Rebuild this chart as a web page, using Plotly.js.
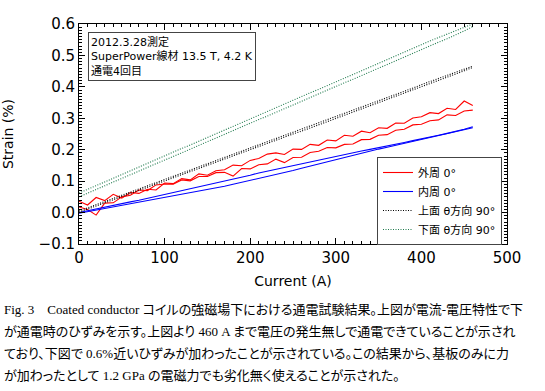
<!DOCTYPE html>
<html>
<head>
<meta charset="utf-8">
<script src="https://cdn.plot.ly/plotly-3.0.1.min.js"></script>
<style>
html,body{margin:0;padding:0;background:#fff;}
#chart{width:545px;height:391px;}
#chart .annotation-text{font-feature-settings:"palt" 1;}
</style>
</head>
<body>
<div id="chart"></div>
<script>
// ---- data ----
const current = [0,10,20,30,40,50,60,70,80,90,100,110,120,130,140,150,160,170,180,190,200,210,220,230,240,250,260,270,280,290,300,310,320,330,340,350,360,370,380,390,400,410,420,430,440,450,460];

const outerUp   = [0.036,0.024,0.048,0.038,0.058,0.046,0.064,0.061,0.074,0.072,0.094,0.092,0.108,0.104,0.123,0.119,0.133,0.136,0.151,0.149,0.166,0.172,0.186,0.190,0.185,0.202,0.201,0.217,0.214,0.231,0.228,0.246,0.243,0.259,0.254,0.270,0.268,0.285,0.284,0.301,0.305,0.318,0.315,0.332,0.328,0.355,0.341];
const outerDown = [0.018,0.010,-0.008,0.030,0.031,0.050,0.055,0.072,0.070,0.088,0.091,0.090,0.104,0.101,0.115,0.115,0.127,0.128,0.116,0.140,0.139,0.152,0.155,0.170,0.159,0.175,0.176,0.191,0.195,0.207,0.206,0.217,0.218,0.232,0.233,0.246,0.248,0.262,0.265,0.279,0.281,0.292,0.295,0.311,0.309,0.323,0.326];

const innerUp   = [0.000,0.006,0.010,0.016,0.022,0.028,0.034,0.039,0.045,0.051,0.057,0.063,0.069,0.075,0.081,0.087,0.093,0.100,0.106,0.112,0.119,0.126,0.132,0.138,0.144,0.150,0.156,0.162,0.168,0.174,0.180,0.185,0.190,0.196,0.201,0.206,0.212,0.217,0.223,0.229,0.234,0.240,0.246,0.252,0.258,0.265,0.273];
const innerDown = [-0.002,0.003,0.008,0.012,0.017,0.022,0.027,0.032,0.037,0.042,0.047,0.052,0.057,0.062,0.067,0.073,0.078,0.084,0.090,0.096,0.102,0.108,0.115,0.121,0.127,0.134,0.141,0.148,0.155,0.162,0.169,0.176,0.183,0.190,0.196,0.202,0.208,0.214,0.220,0.226,0.232,0.238,0.244,0.250,0.256,0.263,0.270];

const topUp     = [0.005,0.015,0.025,0.034,0.045,0.055,0.065,0.074,0.085,0.095,0.105,0.115,0.125,0.134,0.145,0.155,0.165,0.174,0.185,0.195,0.205,0.215,0.225,0.234,0.244,0.254,0.264,0.274,0.284,0.294,0.304,0.314,0.324,0.334,0.345,0.355,0.365,0.376,0.386,0.396,0.407,0.417,0.427,0.437,0.447,0.456,0.466];
const topDown   = [0.001,0.011,0.020,0.030,0.040,0.050,0.060,0.070,0.080,0.090,0.100,0.110,0.120,0.130,0.140,0.150,0.160,0.170,0.180,0.190,0.200,0.210,0.220,0.230,0.240,0.250,0.259,0.269,0.279,0.289,0.299,0.309,0.319,0.329,0.339,0.349,0.360,0.370,0.380,0.391,0.401,0.411,0.421,0.431,0.441,0.451,0.462];

const bottomUp   = [0.062,0.074,0.086,0.097,0.109,0.121,0.133,0.145,0.156,0.168,0.180,0.192,0.204,0.215,0.227,0.239,0.251,0.263,0.274,0.286,0.298,0.310,0.322,0.333,0.345,0.357,0.369,0.381,0.392,0.404,0.416,0.428,0.440,0.451,0.463,0.475,0.487,0.499,0.510,0.522,0.534,0.546,0.557,0.568,0.579,0.590,0.600];
const bottomDown = [0.050,0.061,0.073,0.085,0.097,0.108,0.120,0.132,0.144,0.155,0.167,0.179,0.190,0.202,0.214,0.225,0.237,0.249,0.261,0.272,0.284,0.296,0.307,0.319,0.331,0.342,0.354,0.366,0.378,0.389,0.401,0.413,0.424,0.436,0.448,0.459,0.471,0.483,0.495,0.506,0.518,0.530,0.542,0.553,0.565,0.578,0.592];

const seriesNames = ['外周 0°','内周 0°','上面 θ方向 90°','下面 θ方向 90°'];
const infoLines = ['2012.3.28測定','SuperPower線材 13.5 T, 4.2 K','通電4回目'];
const captionLines = [
  'Fig. 3　Coated conductor コイルの強磁場下における通電試験結果。上図が電流-電圧特性で下',
  'が通電時のひずみを示す。上図より 460 A まで電圧の発生無しで通電できていることが示され',
  'ており、下図で 0.6%近いひずみが加わったことが示されている。この結果から、基板のみに力',
  'が加わったとして 1.2 GPa の電磁力でも劣化無く使えることが示された。'
];

// ---- styles ----
const FONT = 'DejaVu Sans, Noto Sans CJK JP, sans-serif';
const CAPFONT = 'Liberation Serif, Noto Sans CJK JP, serif';
const RED = '#ff0000', BLUE = '#0000ff', BLACK = '#000000', GREEN = '#1f7a4d';
const DOT = '1px,1.5px';

function tr(y, name, color, dash, group, show) {
  return {x: current, y: y, type: 'scatter', mode: 'lines', name: name,
    legendgroup: group, showlegend: show,
    line: {color: color, width: 1.1, dash: dash}};
}

const data = [
  tr(outerUp, seriesNames[0], RED, 'solid', 'g0', true),
  tr(outerDown, seriesNames[0], RED, 'solid', 'g0', false),
  tr(innerUp, seriesNames[1], BLUE, 'solid', 'g1', true),
  tr(innerDown, seriesNames[1], BLUE, 'solid', 'g1', false),
  tr(topUp, seriesNames[2], BLACK, DOT, 'g2', true),
  tr(topDown, seriesNames[2], BLACK, DOT, 'g2', false),
  tr(bottomUp, seriesNames[3], GREEN, DOT, 'g3', true),
  tr(bottomDown, seriesNames[3], GREEN, DOT, 'g3', false)
];

const L = 79, R = 38, T = 24, B = 147;
const plotH = 391 - T - B, plotW = 545 - L - R;
function py(pix) { return (391 - B - pix) / plotH; }
function px(pix) { return (pix - L) / plotW; }

const annotations = [{
  xref: 'paper', yref: 'paper', x: px(88), y: py(32), xanchor: 'left', yanchor: 'top',
  text: infoLines.join('<br>'), align: 'left', showarrow: false,
  font: {family: FONT, size: 11, color: '#000'},
  bgcolor: '#fff', bordercolor: '#444', borderwidth: 1, borderpad: 2
}];
captionLines.forEach(function (t, i) {
  annotations.push({
    xref: 'paper', yref: 'paper', x: px(2), y: py(309 + i * 22), xanchor: 'left', yanchor: 'middle',
    text: t, showarrow: false, align: 'left',
    font: {family: CAPFONT, size: 13, color: '#000'}
  });
});

const axisCommon = {
  showline: true, linecolor: '#000', linewidth: 1, mirror: 'ticks',
  ticks: 'inside', ticklen: 6, tickwidth: 1, tickcolor: '#000',
  showgrid: false, zeroline: false,
  tickfont: {family: FONT, size: 15, color: '#000'}
};

const layout = {
  width: 545, height: 391,
  margin: {l: L, r: R, t: T, b: B, pad: 0},
  paper_bgcolor: '#fff', plot_bgcolor: '#fff',
  showlegend: true,
  legend: {
    x: px(502), xanchor: 'right', y: py(201), yanchor: 'middle',
    bgcolor: '#fff', bordercolor: '#444', borderwidth: 1,
    font: {family: FONT, size: 11, color: '#000'},
    tracegroupgap: 0, itemwidth: 30
  },
  xaxis: Object.assign({}, axisCommon, {
    range: [0, 500], tickmode: 'linear', tick0: 0, dtick: 100,
    minor: {tickmode: 'linear', tick0: 0, dtick: 10, ticks: 'inside', ticklen: 3, tickcolor: '#000', tickwidth: 1, showgrid: false},
    title: {text: 'Current (A)', font: {family: FONT, size: 14, color: '#000'}, standoff: 10}
  }),
  yaxis: Object.assign({}, axisCommon, {
    range: [-0.1, 0.6], tickmode: 'linear', tick0: 0, dtick: 0.1, tickformat: '.1f',
    minor: {tickmode: 'linear', tick0: 0, dtick: 0.01, ticks: 'inside', ticklen: 3, tickcolor: '#000', tickwidth: 1, showgrid: false},
    title: {text: 'Strain (%)', font: {family: FONT, size: 14, color: '#000'}, standoff: 22}
  }),
  annotations: annotations
};

Plotly.newPlot('chart', data, layout, {displayModeBar: false, staticPlot: true}).then(function (gd) {
  // make sure tick marks are painted solid black
  gd.querySelectorAll('path.xtick, path.ytick').forEach(function (p) {
    p.style.stroke = '#000'; p.style.strokeOpacity = 1; p.style.strokeWidth = '1px';
  });
});
</script>
</body>
</html>
